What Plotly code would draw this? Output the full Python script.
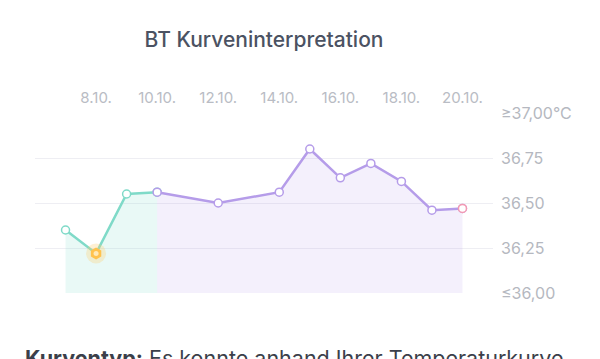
import plotly.graph_objects as go

# ---- data ----
days_phase1 = [7, 8, 9, 10]
temps_phase1 = [36.35, 36.22, 36.55, 36.56]
days_phase2 = [10, 12, 14, 15, 16, 17, 18, 19, 20]
temps_phase2 = [36.56, 36.50, 36.56, 36.80, 36.64, 36.72, 36.62, 36.46, 36.47]
special_day = [8]
special_temp = [36.22]
last_day = [20]
last_temp = [36.47]

x_tick_vals = [8, 10, 12, 14, 16, 18, 20]
x_tick_text = ["8.10.", "10.10.", "12.10.", "14.10.", "16.10.", "18.10.", "20.10."]
y_tick_vals = [36.0, 36.25, 36.5, 36.75, 37.0]
y_tick_text = ["≤36,00", "36,25", "36,50", "36,75", "≥37,00°C"]

TEAL = "#7fdac8"
PURPLE = "#b59ce9"
FONT = "Inter"

fig = go.Figure()

# fills
fig.add_trace(go.Scatter(x=days_phase1, y=temps_phase1, mode="lines", line=dict(width=0),
                         fill="tozeroy", fillcolor="rgba(127,218,200,0.17)", hoverinfo="skip"))
fig.add_trace(go.Scatter(x=days_phase2, y=temps_phase2, mode="lines", line=dict(width=0),
                         fill="tozeroy", fillcolor="rgba(181,156,233,0.15)", hoverinfo="skip"))

# lines with markers
fig.add_trace(go.Scatter(x=days_phase1, y=temps_phase1, mode="lines+markers",
                         line=dict(color=TEAL, width=2.5),
                         marker=dict(size=8, color="white", line=dict(color=TEAL, width=1.5))))
fig.add_trace(go.Scatter(x=days_phase2, y=temps_phase2, mode="lines+markers",
                         line=dict(color=PURPLE, width=2.5),
                         marker=dict(size=8, color="white", line=dict(color=PURPLE, width=1.5))))

# special (ovulation) marker
fig.add_trace(go.Scatter(x=special_day, y=special_temp, mode="markers",
                         marker=dict(size=20, color="rgba(255,205,110,0.3)", line=dict(width=0))))
fig.add_trace(go.Scatter(x=special_day, y=special_temp, mode="markers",
                         marker=dict(size=12, symbol="hexagon", color="#ffc24d", line=dict(width=0))))
fig.add_trace(go.Scatter(x=special_day, y=special_temp, mode="markers",
                         marker=dict(size=5, color="#ffe9b8", line=dict(width=0))))

# last marker
fig.add_trace(go.Scatter(x=last_day, y=last_temp, mode="markers",
                         marker=dict(size=8, color="white", line=dict(color="#f39ab3", width=1.5))))

fig.update_layout(
    width=600, height=359,
    margin=dict(l=35, r=107, t=113, b=66),
    paper_bgcolor="white", plot_bgcolor="white",
    showlegend=False,
    title=dict(text="BT Kurveninterpretation", xref="paper", x=0.5, xanchor="center",
               y=1 - 40 / 359, yanchor="middle",
               font=dict(family=FONT, size=21, weight=500, color="#4b5262")),
    xaxis=dict(range=[6, 21], side="top", tickvals=x_tick_vals, ticktext=x_tick_text,
               showgrid=False, zeroline=False, showline=False, ticks="",
               ticklabelstandoff=6,
               tickfont=dict(family=FONT, size=15, color="#b9bcc4")),
    yaxis=dict(range=[36.0, 37.0], side="right", tickvals=y_tick_vals, ticktext=y_tick_text,
               showgrid=True, gridcolor="#eeeef3", gridwidth=1, zeroline=False, showline=False,
               ticks="", ticklabelstandoff=7,
               tickfont=dict(family=FONT, size=16, color="#b5b8c0")),
)

fig.add_annotation(text="<b>Kurventyp:</b> Es konnte anhand Ihrer Temperaturkurve",
                   xref="paper", yref="paper", x=-12 / 458, y=-(358 - 293) / 180,
                   xanchor="left", yanchor="middle", showarrow=False,
                   font=dict(family=FONT, size=21.5, color="#3b3f4a"))

fig.write_html("out.html")
